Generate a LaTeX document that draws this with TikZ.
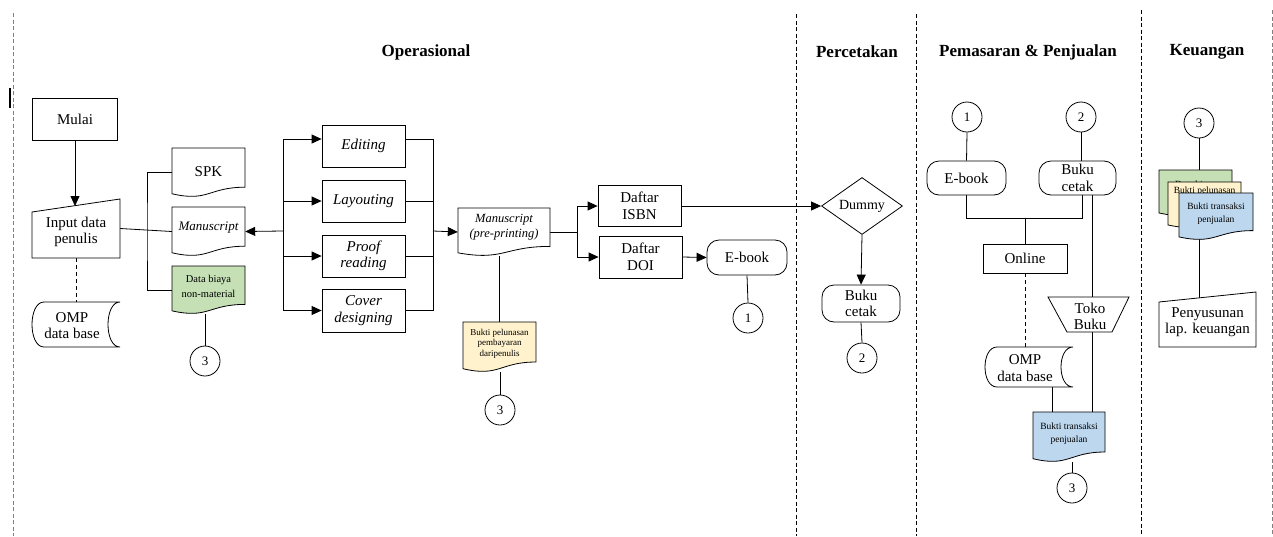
\documentclass[tikz,border=0pt]{standalone}
\usepackage{fontspec}
\setmainfont{Liberation Serif}
\usetikzlibrary{shapes.geometric,arrows.meta,calc}
\pgfdeclarelayer{bg}
\pgfsetlayers{bg,main}
\newcommand\fsz[2]{\fontsize{#1pt}{#2pt}\selectfont}
\definecolor{docgreen}{HTML}{C5E0B4}
\definecolor{docyellow}{HTML}{FFF2CC}
\definecolor{docblue}{HTML}{BDD7EE}
\tikzset{
 ln/.style={line width=0.8pt},
 arr/.style={ln,-{Triangle[length=10pt,width=9pt]}},
 box/.style={draw,line width=0.8pt,fill=white,inner sep=0pt,align=center,font=\fsz{15}{16.5}},
 ibox/.style={box,font=\itshape\fsz{15}{16.5}},
 term/.style={box,rounded corners=12pt},
 conn/.style={draw,circle,line width=0.8pt,fill=white,minimum size=30pt,inner sep=0pt,font=\fsz{13}{14}},
 hdr/.style={font=\bfseries\fsz{17}{19}},
 sep/.style={line width=0.8pt,dash pattern=on 4pt off 2.5pt},
 dashln/.style={line width=0.8pt,dash pattern=on 4pt off 3pt},
 ghost/.style={inner sep=0pt},
}
% document shape: #1 text factor, #2 name, #3 x1, #4 y1, #5 x2, #6 y2, #7 fill, #8 font, #9 text
\newcommand\docnode[9][0.43]{%
 \path[draw=black,line width=0.8pt,fill=#7] (#3,#4) -- (#5,#4) -- (#5,{#4+0.8*(#6-#4)})
   .. controls ({(#3+#5)/2},{#4+0.8*(#6-#4)}) and ({(#3+#5)/2},{#4+1.107*(#6-#4)}) .. (#3,{#4+0.934*(#6-#4)}) -- cycle;
 \node[ghost,minimum width={(#5-#3)*1pt},minimum height={(#6-#4)*1pt}] (#2) at ({(#3+#5)/2},{(#4+#6)/2}) {};
 \node[ghost,align=center,font=#8] (#2-t) at ({(#3+#5)/2},{#4+#1*(#6-#4)}) {#9};
}
% stored data shape: #1 name, #2 x1, #3 y1, #4 x2, #5 y2, #6 text
\newcommand\storednode[6]{%
 \path[draw=black,line width=0.8pt,fill=white] ({#2+12},#3) -- (#4,#3)
   .. controls ({#4-16},#3) and ({#4-16},#5) .. (#4,#5) -- ({#2+12},#5)
   .. controls ({#2-4},#5) and ({#2-4},#3) .. ({#2+12},#3) -- cycle;
 \node[ghost,minimum width={(#4-#2)*1pt},minimum height={(#5-#3)*1pt}] (#1) at ({(#2+#4)/2},{(#3+#5)/2}) {};
 \node[ghost,align=center,font=\fsz{15}{16.5}] (#1-t) at ({(#2+#4)/2-4},{(#3+#5)/2+1}) {#6};
}
% manual input shape: #1 name, #2 x1, #3 yL, #4 yR, #5 x2, #6 y2, #7 text
\newcommand\maninnode[7]{%
 \path[draw=black,line width=0.8pt,fill=white] (#2,#3) -- (#5,#4) -- (#5,#6) -- (#2,#6) -- cycle;
 \node[ghost,minimum width={(#5-#2)*1pt},minimum height={(#6-#4)*1pt}] (#1) at ({(#2+#5)/2},{(#4+#6)/2}) {};
 \node[ghost,align=center,font=\fsz{15}{16.5}] (#1-t) at ({(#2+#5)/2},{((#3+#4)/2+#6)/2}) {#7};
}
\begin{document}
\begin{tikzpicture}[x=1pt,y=-1pt]
\useasboundingbox (0,0) rectangle (1273,536);

% lane separators
\draw[sep,gray] (13,13) -- (13,536);
\draw[sep] (796,14) -- (796,536);
\draw[sep] (916,14) -- (916,536);
\draw[sep] (1141,10) -- (1141,536);
\draw[sep,gray] (1272,10) -- (1272,536);
\draw[line width=2pt] (10,88) -- (10,108);

% headers
\node[hdr] (hOp) at (426,52) {Operasional};
\node[hdr] (hPc) at (857,52) {Percetakan};
\node[hdr] (hPm) at (1028,52) {Pemasaran \& Penjualan};
\node[hdr] (hKu) at (1207,52) {Keuangan};

% ---------- Operasional ----------
\node[box,minimum width=85pt,minimum height=42pt] (mulai) at (75,119) {Mulai};
\maninnode{input}{32}{212}{199}{120}{258}{Input data\\penulis}
\coordinate (inputtop) at (75,206);
\storednode{omp1}{32}{302}{120}{347}{OMP\\data base}

\docnode[0.49]{spk}{172}{148}{245}{197}{white}{\fsz{15}{16.5}}{SPK}
\docnode{ms1}{172}{207}{245}{256}{white}{\itshape\fsz{13}{15}}{Manuscript}
\docnode{dbiaya}{172}{266}{245}{314}{docgreen}{\fsz{10.5}{15}}{Data biaya\\non-material}
\node[conn] (c3a) at (205,361) {3};

\node[ibox,minimum width=83pt,minimum height=42pt] (edit) at (363.5,146) {Editing};
\node[ibox,minimum width=83pt,minimum height=42pt] (layout) at (363.5,201) {Layouting};
\node[ibox,minimum width=83pt,minimum height=42pt] (proof) at (363.5,256) {Proof\\reading};
\node[ibox,minimum width=83pt,minimum height=43pt] (cover) at (363.5,310.5) {Cover\\designing};

\docnode[0.39]{ms2}{458}{208}{550}{256}{white}{\itshape\fsz{12.5}{15}}{Manuscript\\(pre-printing)}
\docnode{bukti1}{463}{322}{536}{372}{docyellow}{\fsz{9}{10.5}}{Bukti pelunasan\\pembayaran\\daripenulis}
\node[conn] (c3b) at (500,410) {3};

\node[box,minimum width=83pt,minimum height=41pt] (isbn) at (639.5,206) {Daftar\\ISBN};
\node[box,minimum width=83pt,minimum height=42pt] (doi) at (640.5,257) {Daftar\\DOI};
\node[term,minimum width=80pt,minimum height=35pt] (ebook1) at (747,257.5) {E-book};
\node[conn] (c1a) at (748,318) {1};

% ---------- Percetakan ----------
\node[diamond,draw,line width=0.8pt,fill=white,minimum width=81pt,minimum height=57pt,inner sep=0pt,
  label={[font=\fsz{14}{16}]center:Dummy}] (dummy) at (862,206) {};
\node[term,minimum width=78pt,minimum height=37pt] (buku1) at (861,303.5) {Buku\\cetak};
\node[conn] (c2a) at (862,358) {2};

% ---------- Pemasaran & Penjualan ----------
\node[conn] (c1b) at (967,117) {1};
\node[conn] (c2b) at (1081,117) {2};
\node[term,minimum width=79pt,minimum height=34pt] (ebook2) at (966.5,178) {E-book};
\node[term,minimum width=77pt,minimum height=34pt] (buku2) at (1077.5,178) {Buku\\cetak};
\node[box,minimum width=84pt,minimum height=29pt] (online) at (1025,258.5) {Online};
\path[draw=black,line width=0.8pt,fill=white] (1048,297) -- (1129,297) -- (1112,332) -- (1067,332) -- cycle;
\node[ghost,minimum width=81pt,minimum height=35pt] (toko) at (1088.5,314.5) {};
\node[ghost,align=center,font=\fsz{15}{16.5}] (toko-t) at (1090,316.5) {Toko\\Buku};
\storednode{omp2}{985}{347}{1073}{387}{OMP\\data base}
\docnode{bukti2}{1033}{412}{1105}{462}{docblue}{\fsz{9.5}{13}}{Bukti transaksi\\penjualan}
\node[conn] (c3c) at (1072,488) {3};
\coordinate (tkx) at (1092,0);
\coordinate (ox) at (1052,0);
\coordinate (jR) at (1082,218);

% ---------- Keuangan ----------
\node[conn] (c3d) at (1199,123) {3};
\docnode[0.45]{k1}{1159}{170}{1232}{216}{docgreen}{\fsz{9.5}{13}}{Data biaya\\non-material}
\docnode[0.43]{k2}{1168}{182}{1241}{228}{docyellow}{\fsz{9.5}{11}}{Bukti pelunasan\\pembayaran\\daripenulis}
\docnode[0.43]{k3}{1179}{193}{1253}{240}{docblue}{\fsz{9.5}{13}}{Bukti transaksi\\penjualan}
\maninnode{lap}{1159}{302}{292}{1256}{347}{Penyusunan\\lap. keuangan}
\coordinate (laptop) at (1199,298);

% ---------- connectors ----------
\begin{pgfonlayer}{bg}
\draw[arr] (mulai.south) -- (inputtop);
\draw[dashln] (input.south) -- (omp1.north);
\draw[ln] (input.east) -- (ms1.west);
\coordinate (brk) at (147,232);
\draw[ln] (spk.west) -| (brk) |- (dbiaya.west);
\draw[ln] (c3a.north) -- (c3a.north |- dbiaya.south);

\coordinate (bl) at (283,231);
\draw[arr] (bl) -- (ms1.east);
\draw[arr] (bl) |- ([yshift=7pt]edit.west);
\draw[arr] (bl) |- (layout.west);
\draw[arr] (bl) |- (proof.west);
\draw[arr] (bl) |- (cover.west);
\coordinate (br) at (433,231);
\draw[ln] ([yshift=7pt]edit.east) -| (br);
\draw[ln] (layout.east) -| (br);
\draw[ln] (proof.east) -| (br);
\draw[ln] (cover.east) -| (br);
\draw[arr] (br) -- (ms2.west);

\coordinate (b2) at (577,232);
\draw[ln] (ms2.east) -- (b2);
\draw[arr] (b2) |- (isbn.west);
\draw[arr] (b2) |- (doi.west);
\draw[arr] (doi.east) -- (ebook1.west);
\draw[ln] (ebook1.south) -- (c1a.north);
\draw[ln] (bukti1.north) -- (bukti1.north |- ms2.south);
\draw[ln] (c3b.north) -- (c3b.north |- bukti1.south);

\draw[arr] (isbn.east) -- (dummy.west);
\draw[arr] (dummy.south) -- (buku1.north);
\draw[ln] (buku1.south) -- (c2a.north);

\draw[ln] (c1b.south) -- (ebook2.north);
\draw[ln] (c2b.south) -- (c2b.south |- buku2.north);
\draw[ln] (ebook2.south) |- (jR) -- (jR |- buku2.south);
\draw[ln] (online.north) -- (online.north |- jR);
\draw[dashln] (online.south) -- (online.south |- omp2.north);
\draw[ln] (tkx |- buku2.south) -- (tkx |- toko.north);
\draw[ln] (tkx |- toko.south) -- (tkx |- bukti2.north);
\draw[ln] (ox |- omp2.south) -- (ox |- bukti2.north);
\draw[ln] (c3c.north) -- (c3c.north |- bukti2.south);

\draw[ln] (c3d.south) -- (laptop);
\end{pgfonlayer}
\end{tikzpicture}
\end{document}
